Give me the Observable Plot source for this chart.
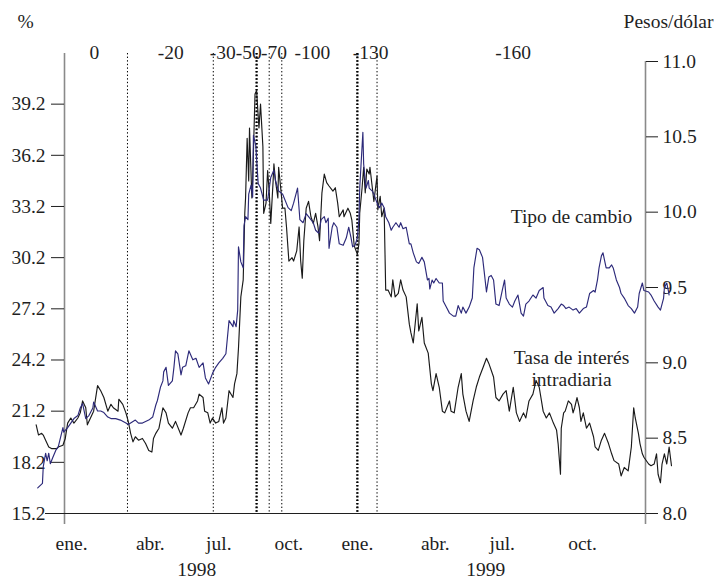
<!DOCTYPE html>
<html>
<head>
<meta charset="utf-8">
<script src="https://cdn.jsdelivr.net/npm/d3@7"></script>
<script src="https://cdn.jsdelivr.net/npm/@observablehq/plot@0.6"></script>
<style>
  body { margin: 0; background: #fff; }
  #chart svg { display: block; }
</style>
</head>
<body>
<div id="chart"></div>
<script>
// Observations are stored as [days since baseDate, value].
const baseDate = "1998-01-01";

// Tasa de interés intradiaria (%)
const rateSeries = [
  [-31,20.4],[-28,19.8],[-24,19.9],[-22,19.8],[-19,19.5],[-15,19.1],[-11,19.0],[-9,19.0],[-5,19.0],[-3,19.1],
  [3,19.2],[6,19.6],[9,20.5],[13,20.8],[17,20.5],[22,20.8],[25,21.1],[28,21.8],[32,21.4],[34,20.4],
  [38,20.8],[42,21.2],[47,22.7],[51,22.4],[55,22.0],[60,21.2],[64,21.6],[67,21.4],[73,21.2],[74,21.9],
  [79,21.6],[83,21.1],[86,20.6],[89,19.9],[92,19.4],[95,19.7],[99,19.5],[104,19.6],[108,19.3],[112,18.9],
  [116,18.8],[118,19.6],[121,19.9],[125,20.2],[130,21.4],[134,21.1],[137,20.5],[142,20.2],[146,20.6],[153,19.8],
  [156,20.2],[162,21.1],[165,21.4],[169,21.4],[174,21.8],[176,22.2],[181,22.0],[183,21.2],[187,21.1],[190,20.5],
  [193,20.8],[197,20.5],[201,20.6],[205,21.4],[207,20.5],[210,20.8],[214,22.4],[219,22.0],[221,22.8],[224,23.4],
  [226,24.9],[229,27.9],[232,28.9],[234,32.8],[235,33.7],[237,37.2],[239,34.7],[240,37.8],[243,33.7],[244,34.7],
  [247,39.8],[249,40.0],[252,37.8],[254,39.2],[257,36.7],[258,32.8],[261,33.4],[263,35.3],[265,34.1],[267,32.2],
  [270,34.7],[271,35.7],[273,34.7],[276,33.7],[277,35.5],[280,34.1],[282,33.1],[285,33.1],[287,32.0],[290,30.0],
  [294,30.2],[296,30.0],[300,30.6],[303,32.0],[305,30.0],[307,29.0],[309,31.2],[312,33.1],[315,33.5],[318,32.6],
  [321,32.2],[324,32.8],[327,32.0],[329,31.2],[332,34.0],[335,35.1],[338,34.6],[341,34.4],[346,34.1],[349,34.3],
  [352,33.4],[354,32.6],[359,33.0],[360,32.6],[365,33.1],[368,32.8],[370,32.4],[373,30.9],[377,30.4],[379,31.0],
  [380,32.8],[383,34.3],[385,35.5],[387,34.0],[389,35.4],[392,35.1],[393,35.5],[396,34.3],[398,33.5],[402,35.0],
  [403,33.0],[406,33.8],[408,32.6],[411,33.1],[413,28.3],[416,28.3],[420,27.9],[422,28.9],[425,27.9],[429,28.1],
  [432,28.9],[435,28.3],[439,27.9],[443,26.3],[445,25.8],[448,25.2],[453,27.5],[455,25.9],[459,26.7],[462,25.2],
  [467,24.6],[471,22.8],[473,22.4],[477,23.4],[481,22.6],[485,21.2],[488,21.1],[494,21.8],[496,21.2],[500,21.1],
  [505,22.6],[509,23.4],[511,22.2],[515,21.2],[519,20.6],[524,21.8],[528,22.6],[532,23.2],[537,23.8],[541,24.3],
  [544,24.0],[550,23.2],[553,22.0],[557,21.8],[562,22.2],[566,22.4],[570,21.2],[575,22.6],[579,21.1],[583,20.6],
  [588,21.1],[591,20.8],[595,21.8],[600,22.2],[604,23.0],[608,22.6],[613,21.2],[617,20.8],[621,21.1],[626,20.5],
  [630,20.1],[632,19.3],[635,17.5],[636,20.2],[639,21.1],[641,21.2],[645,21.8],[649,21.6],[651,21.1],[653,21.4],
  [656,22.0],[659,21.4],[661,20.6],[664,21.1],[668,20.2],[672,20.5],[677,19.7],[679,19.1],[683,18.9],[687,19.5],
  [691,19.9],[696,19.3],[700,18.7],[703,18.3],[709,18.1],[712,17.4],[716,17.9],[721,17.7],[725,19.1],[728,21.4],
  [730,20.8],[734,19.9],[736,19.3],[739,18.7],[741,18.5],[747,18.1],[750,18.0],[754,18.1],[757,18.7],[759,17.5],
  [762,17.0],[764,18.1],[767,18.7],[770,18.1],[773,19.1],[776,18.0]
];

// Tipo de cambio (pesos por dólar)
const fxSeries = [
  [-29,8.17],[-23,8.20],[-22,8.31],[-19,8.40],[-17,8.35],[-15,8.40],[-13,8.33],[-10,8.37],[-6,8.42],[-3,8.44],
  [3,8.57],[4,8.54],[9,8.57],[13,8.60],[17,8.63],[22,8.65],[25,8.70],[28,8.73],[32,8.63],[36,8.65],
  [41,8.70],[42,8.74],[47,8.68],[51,8.68],[55,8.67],[60,8.64],[64,8.63],[70,8.63],[76,8.62],[83,8.60],
  [86,8.59],[92,8.61],[95,8.62],[99,8.60],[104,8.60],[108,8.61],[112,8.62],[117,8.64],[121,8.72],[123,8.75],
  [127,8.84],[130,8.88],[131,8.94],[134,8.97],[137,8.85],[142,8.88],[144,8.97],[146,9.08],[149,9.06],[153,8.92],
  [155,8.97],[159,8.98],[163,9.08],[168,9.02],[172,9.03],[176,8.97],[181,9.00],[184,8.90],[188,8.86],[193,8.93],
  [197,8.97],[201,9.00],[206,9.03],[210,9.06],[214,9.28],[219,9.24],[220,9.28],[223,9.24],[225,9.35],[226,9.77],
  [229,9.67],[232,9.63],[233,9.91],[235,9.97],[238,9.95],[239,10.12],[242,10.18],[244,10.10],[245,10.51],[248,10.44],
  [251,10.19],[254,10.16],[258,10.08],[263,10.08],[267,10.23],[271,10.28],[273,10.21],[277,10.14],[282,10.12],[289,10.03],
  [293,10.01],[296,10.06],[301,10.16],[304,9.95],[308,9.93],[312,9.99],[315,9.97],[321,9.93],[324,9.88],[328,9.86],
  [331,9.95],[335,9.97],[337,9.93],[340,9.96],[341,9.76],[345,9.90],[347,9.93],[351,9.90],[354,9.79],[359,9.78],
  [363,9.83],[366,9.90],[369,9.83],[371,9.77],[374,9.78],[377,9.83],[379,9.95],[380,10.16],[384,10.53],[385,10.32],
  [388,10.16],[391,10.21],[392,10.16],[396,10.14],[398,10.12],[402,10.06],[405,10.03],[408,10.06],[411,10.03],[413,9.97],
  [417,9.93],[420,9.88],[422,9.90],[426,9.93],[430,9.90],[432,9.93],[435,9.89],[439,9.90],[443,9.79],[445,9.79],
  [448,9.73],[452,9.67],[455,9.66],[459,9.70],[462,9.67],[466,9.55],[468,9.56],[469,9.49],[472,9.55],[474,9.53],
  [477,9.56],[481,9.53],[485,9.53],[486,9.41],[490,9.37],[494,9.33],[499,9.31],[502,9.31],[505,9.38],[509,9.33],
  [511,9.37],[515,9.33],[519,9.37],[523,9.43],[525,9.63],[529,9.76],[532,9.75],[536,9.70],[538,9.61],[541,9.47],
  [544,9.57],[547,9.58],[550,9.55],[553,9.39],[557,9.38],[561,9.48],[564,9.55],[566,9.43],[570,9.39],[574,9.37],
  [577,9.41],[581,9.45],[585,9.33],[588,9.31],[591,9.39],[595,9.41],[600,9.45],[604,9.43],[608,9.48],[613,9.50],
  [614,9.43],[619,9.38],[623,9.37],[627,9.33],[632,9.36],[636,9.39],[639,9.38],[642,9.36],[646,9.37],[651,9.35],
  [655,9.36],[659,9.33],[664,9.36],[668,9.37],[672,9.46],[677,9.48],[679,9.47],[682,9.55],[684,9.63],[687,9.71],
  [689,9.73],[691,9.68],[693,9.63],[697,9.63],[700,9.65],[702,9.63],[706,9.55],[710,9.50],[712,9.46],[716,9.43],
  [721,9.38],[725,9.36],[729,9.33],[733,9.37],[735,9.46],[739,9.53],[741,9.48],[747,9.47],[750,9.45],[754,9.41],
  [759,9.37],[762,9.35],[766,9.43],[767,9.50],[770,9.53],[772,9.48],[773,9.45]
];

// Changes in the "corto" (millions of pesos) and where each amount is labelled
const shortChangeDates = ["1998-03-27","1998-07-14","1998-09-07","1998-09-23","1998-10-09","1999-01-13","1999-02-07"];
const heavyChangeDates = ["1998-09-07","1999-01-13"];
const shortLabels = ["0","-20","-30","-50","-70","-100","-130","-160"];
const shortLabelDates = ["1998-02-13","1998-05-21","1998-07-26","1998-08-28","1998-09-29","1998-11-17","1999-01-30","1999-07-30"];

// Time axis labels
const monthLabels = ["ene.","abr.","jul.","oct.","ene.","abr.","jul.","oct."];
const monthLabelDates = ["1998-01-15","1998-04-25","1998-07-21","1998-10-18","1999-01-13","1999-04-22","1999-07-16","1999-10-26"];
const yearLabels = ["1998","1999"];
const yearLabelDates = ["1998-06-23","1999-06-25"];
const axisDates = ["1998-01-06","2000-01-14"];

// Value axes
const rateTicks = [15.2, 18.2, 21.2, 24.2, 27.2, 30.2, 33.2, 36.2, 39.2];
const pesoTicks = [8.0, 8.5, 9.0, 9.5, 10.0, 10.5, 11.0];
const rateDomain = [15.2, 41.7];
const pesoDomain = [8.0, 11.0];

// Series names drawn beside the lines
const fxName = "Tipo de cambio";
const rateName = "Tasa de interés\nintradiaria";
const nameDate = "1999-10-12";
const fxNameLevel = 9.97;
const rateNameLevel = 23.76;

// ---- build ----
const parse = s => new Date(s + "T00:00:00Z");
const base = parse(baseDate);
const toDate = n => d3.utcDay.offset(base, n);
const k = (rateDomain[1] - rateDomain[0]) / (pesoDomain[1] - pesoDomain[0]);
const toRate = p => rateDomain[0] + (p - pesoDomain[0]) * k;
const fromRate = r => pesoDomain[0] + (r - rateDomain[0]) / k;

const rateData = rateSeries.map(([n, v]) => ({date: toDate(n), value: v}));
const fxData = fxSeries.map(([n, v]) => ({date: toDate(n), value: toRate(v)}));
const events = shortChangeDates.map(parse);
const heavy = heavyChangeDates.map(parse);
const shortText = shortLabels.map((t, i) => ({t, date: parse(shortLabelDates[i])}));
const monthText = monthLabels.map((t, i) => ({t, date: parse(monthLabelDates[i])}));
const yearText = yearLabels.map((t, i) => ({t, date: parse(yearLabelDates[i])}));

const font = "'Liberation Serif', 'Times New Roman', Times, serif";
const fs = 19.5;
const ink = "#1f1f1f";
const axisGray = "#8a8a8a";
const label = {fontSize: fs, fill: ink, lineAnchor: "middle", textAnchor: "middle"};

const chart = Plot.plot({
  width: 719,
  height: 580,
  marginTop: 61,
  marginBottom: 67,
  marginLeft: 64,
  marginRight: 74,
  style: {fontFamily: font, fontSize: fs + "px", color: ink, background: "#fff"},
  x: {type: "utc", domain: axisDates.map(parse), axis: null},
  y: {domain: rateDomain, axis: null},
  marks: [
    // corto change dates
    Plot.ruleX(events, {stroke: "#000", strokeWidth: 1, strokeDasharray: "1.4,2.2", insetTop: -8}),
    Plot.ruleX(heavy, {stroke: "#000", strokeWidth: 2.4, strokeDasharray: "1.6,2", insetTop: -8}),
    // axis lines
    Plot.ruleX([parse(axisDates[0])], {stroke: axisGray, strokeWidth: 1.6, insetTop: -8, insetBottom: -11}),
    Plot.ruleX([parse(axisDates[1])], {stroke: axisGray, strokeWidth: 1.6, insetBottom: -11}),
    Plot.ruleY([rateDomain[0]], {stroke: ink, strokeWidth: 1.2, insetLeft: -19}),
    Plot.axisY(rateTicks, {anchor: "left", tickSize: 13, tickPadding: 6, tickFormat: d3.format(".1f"), label: null, fontSize: fs}),
    Plot.axisY(pesoTicks.map(toRate), {anchor: "right", tickSize: 12, tickPadding: 5, tickFormat: r => fromRate(r).toFixed(1), label: null, fontSize: fs}),
    // series
    Plot.line(rateData, {x: "date", y: "value", stroke: "#1a1a1a", strokeWidth: 1.15}),
    Plot.line(fxData, {x: "date", y: "value", stroke: "#2d2a7a", strokeWidth: 1.15}),
    // labels
    Plot.text(shortText, {x: "date", text: "t", frameAnchor: "top", dy: -9, ...label}),
    Plot.text(monthText, {x: "date", text: "t", frameAnchor: "bottom", dy: 30, ...label}),
    Plot.text(yearText, {x: "date", text: "t", frameAnchor: "bottom", dy: 56, ...label}),
    Plot.text(["%"], {text: d => d, frameAnchor: "top-left", dx: -39, dy: -40, ...label}),
    Plot.text(["Pesos/dólar"], {text: d => d, frameAnchor: "top-right", dx: 23, dy: -40, ...label}),
    Plot.text([fxName], {x: () => parse(nameDate), y: () => toRate(fxNameLevel), text: d => d, ...label}),
    Plot.text([rateName], {x: () => parse(nameDate), y: () => rateNameLevel, text: d => d, ...label, lineHeight: 1.13})
  ]
});

document.getElementById("chart").appendChild(chart);
</script>
</body>
</html>
